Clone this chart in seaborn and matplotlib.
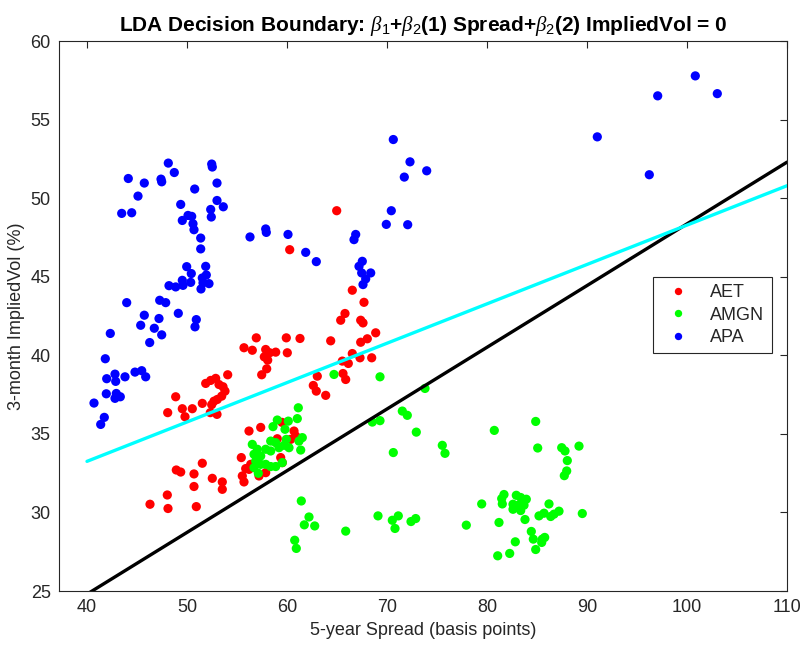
import numpy as np
import pandas as pd
import matplotlib
matplotlib.use("Agg")
import matplotlib.pyplot as plt
import seaborn as sns

# ---- data ----
aet_spread = [56.93, 55.70, 56.53, 57.87, 58.27, 58.87, 57.73, 58.07, 57.97, 57.47,
              54.07, 52.87, 52.37, 51.87, 53.20, 53.60, 53.80, 53.47, 53.03, 52.70,
              52.47, 52.33, 53.00, 48.87, 48.07, 49.53, 49.80, 50.53, 51.53, 56.20,
              57.37, 51.53, 48.93, 49.37, 50.70, 52.53, 53.53, 53.53, 50.70, 55.43,
              55.53, 55.70, 48.03, 46.30, 48.10, 50.93, 60.27, 66.53, 67.70, 65.80,
              65.37, 67.37, 67.60, 68.87, 68.03, 67.37, 64.37, 59.93, 61.30, 60.03,
              66.53, 65.53, 66.13, 67.30, 68.47, 63.03, 62.63, 62.93, 63.87, 65.60,
              65.87, 64.97, 59.50, 60.70, 60.87, 60.37, 59.03, 55.87, 56.37, 56.20,
              59.37, 59.53, 57.20, 57.87]
aet_vol = [41.11, 40.48, 40.32, 40.37, 40.16, 40.20, 39.90, 39.69, 39.14, 38.76,
           38.76, 38.53, 38.40, 38.21, 38.14, 38.00, 37.72, 37.40, 37.19, 37.08,
           36.86, 36.35, 36.24, 37.36, 36.35, 36.60, 36.09, 36.60, 36.94, 35.18,
           35.41, 33.13, 32.70, 32.57, 32.45, 32.17, 31.94, 31.47, 31.65, 33.49,
           32.32, 31.94, 31.11, 30.52, 30.25, 30.37, 46.72, 44.14, 43.37, 42.66,
           42.23, 42.23, 42.06, 41.43, 41.05, 40.83, 40.92, 41.11, 41.07, 40.16,
           40.11, 39.63, 39.48, 39.84, 39.84, 38.67, 38.08, 37.72, 37.45, 38.84,
           38.46, 49.20, 35.73, 35.18, 34.86, 34.65, 34.69, 32.79, 33.06, 32.74,
           33.49, 33.17, 32.32, 32.53]

amgn_spread = [64.70, 69.30, 61.13, 59.03, 60.13, 61.03, 58.60, 59.80, 61.53, 61.20,
               61.37, 56.53, 57.03, 56.70, 57.37, 58.37, 58.87, 59.93, 59.70, 60.20,
               57.87, 58.37, 59.20, 56.87, 57.37, 57.87, 58.37, 59.53, 57.13, 56.70,
               58.87, 73.80, 71.53, 72.03, 68.53, 69.30, 72.93, 70.63, 75.53, 75.80,
               61.43, 62.20, 61.73, 62.77, 60.77, 60.93, 65.87, 69.10, 70.53, 71.13,
               70.80, 72.40, 72.87, 84.87, 80.73, 85.07, 87.47, 87.80, 89.20, 88.03,
               87.97, 87.73, 81.70, 81.47, 81.53, 82.93, 83.37, 83.93, 79.47, 82.60,
               83.13, 83.70, 82.60, 83.37, 86.20, 85.20, 85.70, 86.37, 86.70, 87.20,
               89.53, 83.80, 77.93, 81.20, 84.43, 84.63, 85.53, 85.77, 85.47, 82.83,
               84.87, 81.07, 82.27]
amgn_vol = [38.78, 38.63, 36.66, 35.88, 35.81, 35.97, 35.46, 35.29, 34.76, 34.54,
            33.97, 34.33, 34.02, 33.70, 33.59, 34.54, 34.44, 34.65, 34.27, 34.12,
            34.02, 33.91, 34.12, 33.27, 33.06, 33.06, 32.92, 33.17, 32.49, 32.85,
            32.92, 37.89, 36.45, 36.18, 35.75, 35.84, 35.11, 33.81, 34.27, 33.76,
            30.73, 29.71, 29.21, 29.14, 28.23, 27.71, 28.81, 29.78, 29.50, 29.78,
            28.98, 29.42, 29.61, 35.79, 35.22, 34.10, 34.12, 33.91, 34.22, 33.30,
            32.64, 32.34, 31.14, 30.88, 30.54, 31.09, 30.95, 30.84, 30.54, 30.52,
            30.46, 30.46, 30.20, 30.12, 30.54, 29.78, 29.95, 29.74, 29.89, 30.08,
            29.93, 29.55, 29.19, 29.36, 28.79, 28.30, 28.30, 28.41, 28.09, 28.13,
            27.64, 27.24, 27.39]

apa_spread = [48.13, 52.47, 52.53, 44.13, 48.73, 45.73, 47.40, 47.47, 53.00, 50.77,
              45.10, 49.37, 53.00, 53.63, 52.37, 52.43, 43.47, 44.47, 50.10, 50.47,
              49.53, 50.60, 50.70, 51.37, 51.37, 56.30, 49.97, 51.87, 50.43, 51.93,
              49.53, 49.60, 50.37, 51.53, 51.60, 52.20, 51.40, 48.20, 48.87, 43.97,
              47.27, 47.87, 45.73, 49.13, 47.20, 50.93, 45.37, 46.73, 50.80, 42.33,
              47.47, 46.27, 41.83, 42.80, 44.80, 45.47, 45.87, 43.80, 41.97, 42.87,
              41.93, 42.93, 42.80, 43.33, 40.70, 41.73, 41.37, 57.87, 57.93, 60.10,
              61.87, 62.93, 66.87, 66.70, 69.93, 67.53, 67.20, 67.47, 68.37, 67.87,
              67.60, 70.63, 72.30, 73.97, 71.73, 70.43, 72.07, 100.83, 97.07, 103.03,
              91.03, 96.23]
apa_vol = [52.23, 52.17, 51.98, 51.25, 51.63, 50.96, 51.21, 51.04, 50.96, 50.58,
           50.13, 49.60, 49.85, 49.45, 49.28, 48.80, 49.03, 49.07, 48.90, 48.84,
           48.58, 48.37, 47.99, 47.46, 46.77, 47.53, 45.64, 45.66, 45.20, 45.11,
           44.77, 44.45, 44.64, 44.92, 44.61, 44.56, 44.22, 44.43, 44.35, 43.35,
           43.50, 43.35, 42.55, 42.67, 42.34, 42.27, 41.91, 41.72, 41.81, 41.39,
           41.30, 40.81, 39.78, 38.80, 38.93, 39.02, 38.63, 38.63, 38.51, 38.34,
           37.55, 37.57, 37.26, 37.36, 36.96, 36.05, 35.60, 48.04, 47.82, 47.69,
           46.55, 45.96, 47.69, 47.36, 48.33, 45.98, 45.66, 45.24, 45.24, 44.86,
           44.50, 53.73, 52.31, 51.74, 51.34, 49.20, 48.31, 57.78, 56.51, 56.65,
           53.90, 51.49]

groups = ["AET", "AMGN", "APA"]
group_colors = ["#ff0000", "#00ff00", "#0000ff"]

# decision boundaries, value of implied vol at spread = 40 and 110
line_x = [40, 110]
boundary_black = [24.80, 52.29]
boundary_cyan = [33.25, 50.79]

x_ticks = [40, 50, 60, 70, 80, 90, 100, 110]
y_ticks = [25, 30, 35, 40, 45, 50, 55, 60]

df = pd.concat([
    pd.DataFrame({"Spread": aet_spread, "Vol": aet_vol, "Group": "AET"}),
    pd.DataFrame({"Spread": amgn_spread, "Vol": amgn_vol, "Group": "AMGN"}),
    pd.DataFrame({"Spread": apa_spread, "Vol": apa_vol, "Group": "APA"}),
], ignore_index=True)

sns.set_style("white")
plt.rcParams["font.family"] = ["Liberation Sans", "DejaVu Sans"]
plt.rcParams["mathtext.fontset"] = "custom"
plt.rcParams["mathtext.it"] = "Liberation Serif:italic"
plt.rcParams["mathtext.rm"] = "Liberation Sans"

fig = plt.figure(figsize=(8.07, 6.60), dpi=100)
ax = fig.add_axes([59 / 807, 1 - 591 / 660, 728 / 807, 550 / 660])

sns.scatterplot(data=df, x="Spread", y="Vol", hue="Group", hue_order=groups,
                palette=group_colors, s=44, linewidth=0, edgecolor="none",
                ax=ax, zorder=2)

ax.plot(line_x, boundary_black, color="black", lw=2.4, zorder=3)
ax.plot(line_x, boundary_cyan, color="#00ffff", lw=2.4, zorder=3)

ax.set_xlim(37.2, 110)
ax.set_ylim(25, 60)
ax.set_xticks(x_ticks)
ax.set_yticks(y_ticks)

grey = "#262626"
for sp in ax.spines.values():
    sp.set_visible(True)
    sp.set_color(grey)
    sp.set_linewidth(0.8)
ax.tick_params(direction="in", length=5, width=0.8, colors=grey, labelsize=13,
               top=True, right=True, labelcolor=grey, pad=6)

ax.set_xlabel("5-year Spread (basis points)", fontsize=13, color=grey)
ax.set_ylabel("3-month ImpliedVol (%)", fontsize=13, color=grey)
ax.set_title(r"LDA Decision Boundary: $\beta_1$+$\beta_2$(1) Spread+$\beta_2$(2) ImpliedVol = 0",
             fontsize=15, fontweight="bold", color="black", pad=7)

handles, labels = ax.get_legend_handles_labels()
leg = ax.legend(handles[:3], labels[:3], loc="upper right",
                bbox_to_anchor=(0.979, 0.571), borderaxespad=0, fontsize=13,
                frameon=True, fancybox=False, edgecolor=grey, framealpha=1,
                markerscale=0.8, handletextpad=0.8, borderpad=0.4,
                labelspacing=0.3, title=None)
leg.get_frame().set_linewidth(0.8)

fig.savefig("out.png", dpi=100)
